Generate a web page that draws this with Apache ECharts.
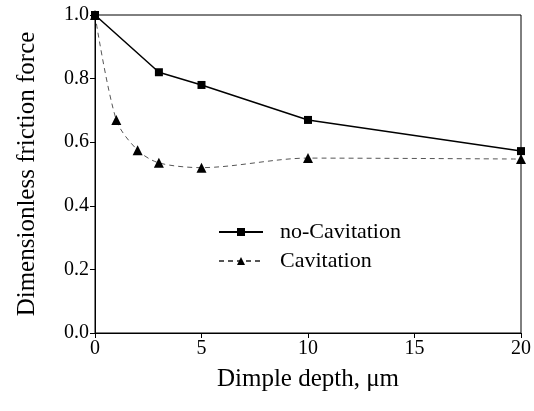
<!DOCTYPE html>
<html>
<head>
<meta charset="utf-8">
<script src="https://cdn.jsdelivr.net/npm/echarts@6/dist/echarts.min.js"></script>
<style>
  html, body { margin: 0; padding: 0; background: #fff; }
  #chart { width: 534px; height: 411px; }
</style>
</head>
<body>
<div id="chart"></div>
<script>
// values
const depthNoCav = [0, 3, 5, 10, 20]
const forceNoCav = [1.0, 0.82, 0.78, 0.67, 0.572]
const depthCav = [0, 1, 2, 3, 5, 10, 20]
const forceCav = [1.0, 0.67, 0.575, 0.535, 0.52, 0.55, 0.547]

const font = 'Liberation Serif, Times New Roman, serif'

const pairs = (xs, ys) => xs.map((x, i) => [x, ys[i]])

const chart = echarts.init(document.getElementById('chart'))

chart.setOption({
  animation: false,
  grid: {
    left: 95,
    right: 11,
    top: 15,
    bottom: 78,
    show: true,
    borderColor: '#000',
    borderWidth: 1,
  },
  legend: {
    left: 213,
    top: 216,
    orient: 'vertical',
    itemWidth: 44,
    itemHeight: 10,
    itemGap: 7,
    textStyle: {
      fontFamily: font,
      fontSize: 22,
      color: '#000',
      padding: [0, 0, 0, 12],
    },
    data: ['no-Cavitation', 'Cavitation'],
  },
  xAxis: {
    type: 'value',
    min: 0,
    max: 20,
    interval: 5,
    name: 'Dimple depth, μm',
    nameLocation: 'middle',
    nameGap: 34,
    nameTextStyle: { fontFamily: font, fontSize: 25, color: '#000' },
    axisLine: { lineStyle: { color: '#000', width: 1 } },
    axisTick: { length: 5, lineStyle: { color: '#000' } },
    axisLabel: { fontFamily: font, fontSize: 20, color: '#000', margin: 6 },
    splitLine: { show: false },
  },
  yAxis: {
    type: 'value',
    min: 0,
    max: 1,
    interval: 0.2,
    name: 'Dimensionless friction force',
    nameLocation: 'middle',
    nameGap: 55,
    nameTextStyle: { fontFamily: font, fontSize: 25, color: '#000' },
    axisLine: { show: true, lineStyle: { color: '#000', width: 1 } },
    axisTick: { show: true, length: 5, lineStyle: { color: '#000' } },
    axisLabel: {
      fontFamily: font,
      fontSize: 20,
      color: '#000',
      margin: 6,
      formatter: (v) => v.toFixed(1),
    },
    splitLine: { show: false },
  },
  series: [
    {
      name: 'no-Cavitation',
      type: 'line',
      data: pairs(depthNoCav, forceNoCav),
      symbol: 'rect',
      symbolSize: 8,
      clip: false,
      itemStyle: { color: '#000' },
      lineStyle: { color: '#000', width: 1.5 },
    },
    {
      name: 'Cavitation',
      type: 'line',
      data: pairs(depthCav, forceCav),
      symbol: 'triangle',
      symbolSize: 10,
      smooth: 0.3,
      clip: false,
      itemStyle: { color: '#000' },
      lineStyle: { color: '#555', width: 1, type: [5, 4] },
    },
  ],
})
</script>
</body>
</html>
